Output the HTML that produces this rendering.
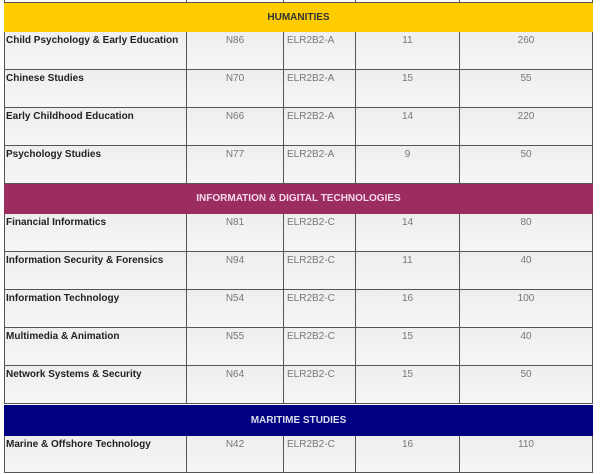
<!DOCTYPE html><html><head><style>
body{margin:0;width:600px;height:474px;background:#fff;position:relative;overflow:hidden;font-family:"Liberation Sans","DejaVu Sans",sans-serif;}
.r{position:absolute;left:4px;width:589px;background:linear-gradient(#eeeeee,#f6f6f6);border-bottom:1px solid #555;}
.c{position:absolute;top:0;bottom:0;border-left:1px solid #555;font-size:10px;color:#777;padding-top:3px;box-sizing:border-box;text-align:center;white-space:nowrap;}
.n{left:0;width:182px;text-align:left;padding-left:1px;color:#222;font-weight:bold;border-left:1px solid #555;}
.h{position:absolute;left:4px;width:589px;text-align:center;font-weight:bold;font-size:10px;box-sizing:border-box;}
</style></head><body>
<div class="r" style="top:-10px;height:12px;background:#fff"><div class="c n"></div><div class="c" style="left:182px;width:97px"></div><div class="c" style="left:279px;width:72px"></div><div class="c" style="left:351px;width:104px"></div><div class="c" style="left:455px;width:134px;border-right:1px solid #555"></div></div>
<div class="h" style="top:3px;height:29px;line-height:29px;background:#ffcc00;color:#333">HUMANITIES</div>
<div class="h" style="top:184px;height:30px;line-height:30px;background:#9b2d61;color:#f6d9e8">INFORMATION &amp; DIGITAL TECHNOLOGIES</div>
<div class="h" style="top:405px;height:31px;line-height:31px;background:#000080;color:#dde">MARITIME STUDIES</div>
<div id="rows"></div>
<script>
var d=[[32,"Child Psychology &amp; Early Education","N86","ELR2B2-A","11","260"],
[70,"Chinese Studies","N70","ELR2B2-A","15","55"],
[108,"Early Childhood Education","N66","ELR2B2-A","14","220"],
[146,"Psychology Studies","N77","ELR2B2-A","9","50"],
[214,"Financial Informatics","N81","ELR2B2-C","14","80"],
[252,"Information Security &amp; Forensics","N94","ELR2B2-C","11","40"],
[290,"Information Technology","N54","ELR2B2-C","16","100"],
[328,"Multimedia &amp; Animation","N55","ELR2B2-C","15","40"],
[366,"Network Systems &amp; Security","N64","ELR2B2-C","15","50"],
[436,"Marine &amp; Offshore Technology","N42","ELR2B2-C","16","110"]];
var h="";d.forEach(function(x,i){var ht=37;if(i==9)ht=36;
h+='<div class="r" style="top:'+x[0]+'px;height:'+ht+'px"><div class="c n">'+x[1]+'</div><div class="c" style="left:182px;width:97px">'+x[2]+'</div><div class="c" style="left:279px;width:72px;text-align:left;padding-left:3px">'+x[3]+'</div><div class="c" style="left:351px;width:104px">'+x[4]+'</div><div class="c" style="left:455px;width:134px;border-right:1px solid #555">'+x[5]+'</div></div>';});
document.getElementById("rows").innerHTML=h;
</script>
</body></html>
